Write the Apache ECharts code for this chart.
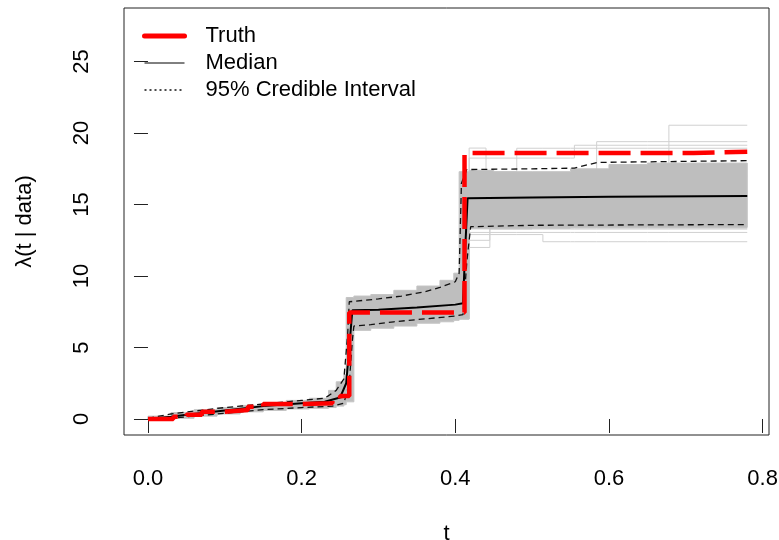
<!DOCTYPE html>
<html>
<head>
<meta charset="utf-8">
<script src="https://cdn.jsdelivr.net/npm/echarts@6/dist/echarts.min.js"></script>
<style>
  html, body { margin: 0; padding: 0; background: #fff; }
  #chart { width: 779px; height: 540px; }
</style>
</head>
<body>
<div id="chart"></div>
<script>
// tick labels
const xTicks = [0, 0.2, 0.4, 0.6, 0.8]
const yTicks = [0, 5, 10, 15, 20, 25]

// true hazard (step function)
const truthT = [0, 0.033, 0.05, 0.07, 0.1, 0.13, 0.15, 0.2, 0.24, 0.25, 0.262, 0.412, 0.71, 0.78]
const truthV = [0, 0.16, 0.3, 0.5, 0.63, 0.85, 1.05, 1.1, 1.3, 1.6, 7.45, 18.6, 18.7, 18.7]

// posterior median
const medianT = [0, 0.03, 0.05, 0.1, 0.15, 0.2, 0.23, 0.25, 0.258, 0.262, 0.266, 0.3, 0.35, 0.4, 0.41, 0.413, 0.416, 0.5, 0.6, 0.78]
const medianV = [0, 0.15, 0.3, 0.6, 0.9, 1.1, 1.2, 1.5, 2.5, 5, 7.6, 7.65, 7.8, 8.0, 8.1, 12, 15.45, 15.5, 15.55, 15.6]

// 95% credible interval
const ciLowT = [0, 0.03, 0.06, 0.1, 0.15, 0.2, 0.24, 0.255, 0.262, 0.266, 0.268, 0.29, 0.32, 0.36, 0.4, 0.41, 0.415, 0.42, 0.5, 0.78]
const ciLowV = [0, 0.05, 0.2, 0.4, 0.65, 0.8, 0.9, 1.1, 2.5, 5.5, 6.5, 6.6, 6.8, 7.0, 7.2, 7.3, 11, 13.45, 13.55, 13.6]
const ciHighT = [0, 0.03, 0.06, 0.1, 0.15, 0.2, 0.23, 0.245, 0.255, 0.26, 0.262, 0.3, 0.33, 0.36, 0.38, 0.4, 0.405, 0.408, 0.415, 0.5, 0.555, 0.585, 0.78]
const ciHighV = [0.05, 0.35, 0.55, 0.8, 1.05, 1.3, 1.45, 2.0, 2.8, 6, 8.2, 8.4, 8.6, 8.9, 9.2, 9.6, 10.2, 16.5, 17.45, 17.5, 17.55, 17.95, 18.07]

// dense region of posterior draws (step envelope)
const bandT = [0, 0.03, 0.06, 0.09, 0.12, 0.15, 0.18, 0.21, 0.235, 0.245, 0.255, 0.258, 0.268, 0.29, 0.32, 0.35, 0.38, 0.398, 0.405, 0.418, 0.45, 0.5, 0.55, 0.6, 0.65, 0.7, 0.78]
const bandHi = [0.2, 0.45, 0.65, 0.8, 0.95, 1.15, 1.3, 1.45, 2.0, 2.6, 3.1, 8.5, 8.6, 8.7, 9.0, 9.3, 9.7, 10.2, 17.3, 17.4, 17.3, 17.3, 17.5, 17.8, 17.9, 17.9, 17.9]
const bandLo = [0, 0.05, 0.2, 0.35, 0.5, 0.6, 0.7, 0.75, 0.8, 0.9, 1.0, 1.2, 6.2, 6.35, 6.5, 6.7, 6.8, 6.9, 7.0, 13.3, 13.3, 13.35, 13.4, 13.4, 13.4, 13.4, 13.4]

// a few outlying posterior draws
const drawT = [0.40, 0.41, 0.418, 0.44, 0.445, 0.48, 0.514, 0.55, 0.555, 0.584, 0.65, 0.678, 0.78]
const draw1 = [9, 9, 18.95, 17.0, 17.0, 17.0, 17.0, 17.0, 17.0, 17.0, 17.0, 17.0, 17.0]
const draw2 = [9, 9, 18.25, 18.25, 18.25, 18.25, 18.25, 18.25, 19.15, 19.15, 19.15, 19.15, 19.15]
const draw3 = [9, 9, 17.2, 17.2, 17.2, 17.2, 17.2, 17.2, 17.2, 19.4, 19.4, 19.4, 19.4]
const draw4 = [9, 9, 17.1, 17.1, 17.1, 17.1, 17.1, 17.1, 17.1, 17.1, 17.1, 20.55, 20.55]
const draw5 = [9, 9, 17.3, 17.3, 17.3, 18.94, 18.94, 18.94, 18.94, 18.94, 18.94, 18.94, 18.94]
const draw6 = [7, 7, 12.0, 12.0, 13.3, 13.3, 13.3, 13.3, 13.3, 13.3, 13.3, 13.3, 13.3]
const draw7 = [7, 7, 12.5, 12.5, 13.3, 13.3, 13.3, 13.3, 13.3, 13.3, 13.3, 13.3, 13.3]
const draw8 = [7, 7, 12.9, 12.9, 12.9, 12.9, 12.4, 12.4, 12.4, 12.4, 12.4, 12.4, 12.4]
const draw9 = [7, 7, 13.05, 13.05, 13.05, 13.05, 13.05, 13.05, 13.05, 13.05, 13.05, 13.05, 13.05]
const draws = [draw1, draw2, draw3, draw4, draw5, draw6, draw7, draw8, draw9]

const FONT = 'Liberation Sans, Arial, sans-serif'
const pairs = (t, v) => t.map((x, i) => [x, v[i]])
const stepPairs = (t, v) => {
  const out = []
  t.forEach((x, i) => {
    out.push([x, v[i]])
    if (i < t.length - 1) out.push([t[i + 1], v[i]])
  })
  return out
}

const chart = echarts.init(document.getElementById('chart'))

const drawSeries = draws.map(d => ({
  type: 'line',
  step: 'end',
  data: pairs(drawT, d),
  symbol: 'none',
  silent: true,
  z: 1,
  lineStyle: { color: '#d0d0d0', width: 1 }
}))

const noSymbol = { opacity: 0 }

chart.setOption({
  animation: false,
  grid: {
    left: 124, right: 10, top: 8, bottom: 105,
    outerBoundsMode: 'none',
    containLabel: false,
    show: true, borderColor: '#222', borderWidth: 1
  },
  legend: {
    orient: 'vertical',
    left: 142,
    top: 25,
    padding: 0,
    itemGap: 5,
    itemWidth: 40,
    itemHeight: 14,
    textStyle: { fontFamily: FONT, fontSize: 22, color: '#000', padding: [0, 0, 0, 16] },
    data: [
      { name: 'Truth', itemStyle: noSymbol, lineStyle: { type: 'solid', width: 5, cap: 'round' } },
      { name: 'Median', itemStyle: noSymbol, lineStyle: { width: 1 } },
      { name: '95% Credible Interval', itemStyle: noSymbol, lineStyle: { type: [2, 3], width: 1.4 } }
    ]
  },
  xAxis: {
    type: 'value',
    min: -0.0312,
    max: 0.8083,
    splitLine: { show: false },
    axisLine: { show: false },
    axisTick: { show: true, customValues: xTicks, length: 14, lineStyle: { color: '#222' } },
    axisLabel: {
      customValues: xTicks,
      formatter: v => v.toFixed(1),
      margin: 33,
      fontFamily: FONT, fontSize: 22, color: '#000'
    },
    name: 't',
    nameLocation: 'middle',
    nameGap: 88,
    nameTextStyle: { fontFamily: FONT, fontSize: 22, color: '#000' }
  },
  yAxis: {
    type: 'value',
    min: -1.12,
    max: 28.75,
    splitLine: { show: false },
    axisLine: { show: false },
    axisTick: { show: true, customValues: yTicks, length: 14, lineStyle: { color: '#222' } },
    axisLabel: {
      customValues: yTicks,
      rotate: 90,
      margin: 31,
      fontFamily: FONT, fontSize: 22, color: '#000'
    },
    name: 'λ(t | data)',
    nameLocation: 'middle',
    nameRotate: 90,
    nameGap: 88,
    nameTextStyle: { fontFamily: FONT, fontSize: 22, color: '#000' }
  },
  series: [
    ...drawSeries,
    {
      type: 'custom',
      silent: true,
      z: 2,
      data: [[0, 0]],
      renderItem: (params, api) => {
        const upper = stepPairs(bandT, bandHi).map(p => api.coord(p))
        const lower = stepPairs(bandT, bandLo).map(p => api.coord(p)).reverse()
        return {
          type: 'polygon',
          shape: { points: upper.concat(lower) },
          style: { fill: '#bebebe', stroke: '#c4c4c4', lineWidth: 1 }
        }
      }
    },
    {
      type: 'line',
      name: '95% Credible Interval',
      data: pairs(ciLowT, ciLowV),
      symbol: 'none',
      z: 3,
      itemStyle: { color: '#111' },
      lineStyle: { color: '#111', width: 1.3, type: [6, 4] }
    },
    {
      type: 'line',
      name: '95% Credible Interval',
      data: pairs(ciHighT, ciHighV),
      symbol: 'none',
      z: 3,
      itemStyle: { color: '#111' },
      lineStyle: { color: '#111', width: 1.3, type: [6, 4] }
    },
    {
      type: 'line',
      name: 'Median',
      data: pairs(medianT, medianV),
      symbol: 'none',
      z: 4,
      itemStyle: { color: '#000' },
      lineStyle: { color: '#000', width: 2 }
    },
    {
      type: 'line',
      name: 'Truth',
      step: 'end',
      data: pairs(truthT, truthV),
      symbol: 'none',
      z: 5,
      itemStyle: { color: '#ff0000' },
      lineStyle: { color: '#ff0000', width: 4.5, type: [32, 10] }
    }
  ]
})
</script>
</body>
</html>
